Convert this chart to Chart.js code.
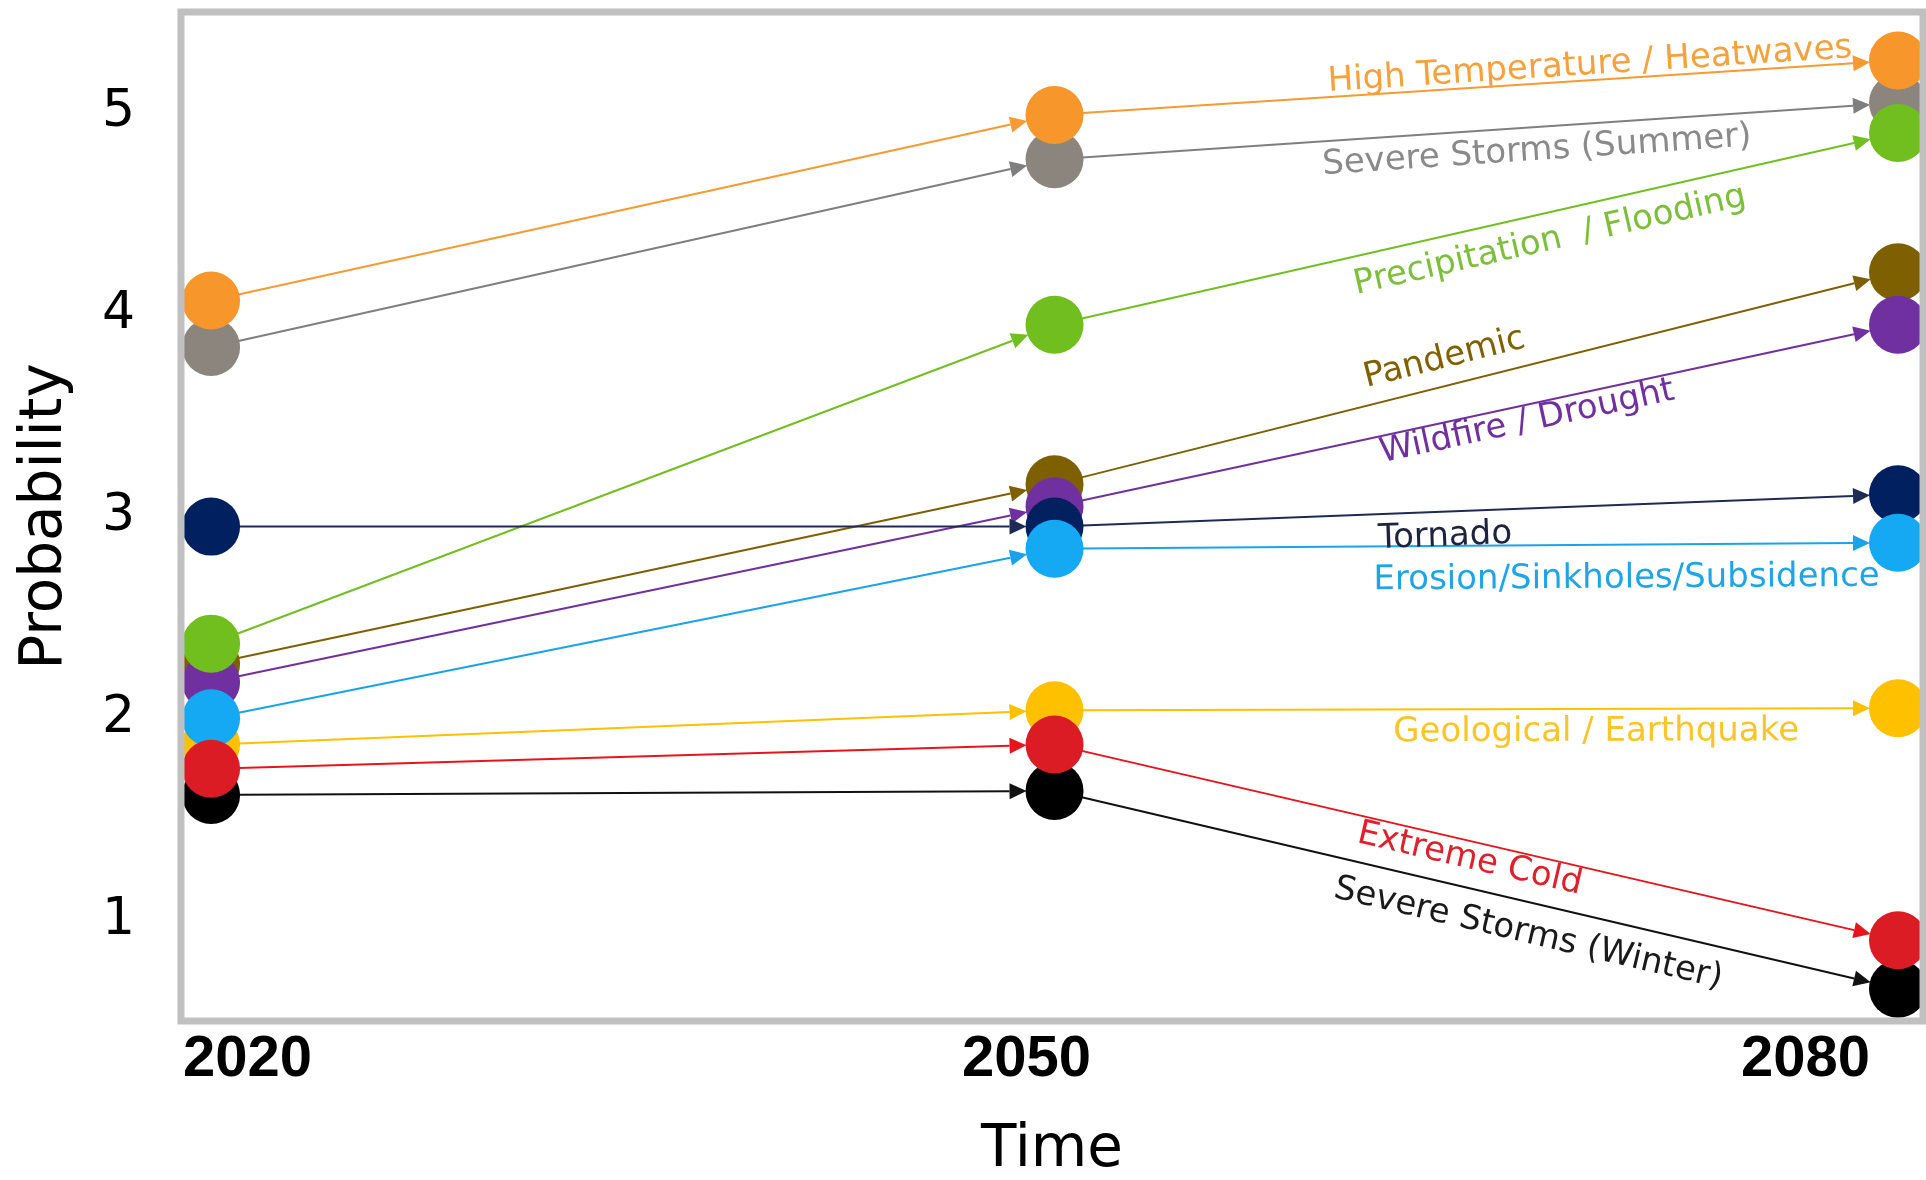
<!DOCTYPE html>
<html>
<head>
<meta charset="utf-8">
<script src="https://cdn.jsdelivr.net/npm/chart.js@4.4.0/dist/chart.umd.min.js"></script>
<style>
  html, body { margin: 0; padding: 0; background: #fff; }
</style>
</head>
<body>
<canvas id="myChart" width="1926" height="1180"></canvas>
<script>
// time axis + probability ticks
var years = [2020, 2050, 2080];
var yTicks = [1, 2, 3, 4, 5];

var hazards = [
    "High Temperature / Heatwaves",
    "Severe Storms (Summer)",
    "Precipitation  / Flooding",
    "Pandemic",
    "Wildfire / Drought",
    "Tornado",
    "Erosion/Sinkholes/Subsidence",
    "Geological / Earthquake",
    "Extreme Cold",
    "Severe Storms (Winter)"
];

// probability per hazard for 2020, 2050, 2080
var heatwaves = [4.07, 4.99, 5.26];
var summerStorms = [3.84, 4.77, 5.05];
var flooding = [2.37, 3.95, 4.90];
var pandemic = [2.27, 3.16, 4.21];
var wildfire = [2.18, 3.05, 3.95];
var tornado = [2.95, 2.95, 3.11];
var erosion = [2.00, 2.84, 2.87];
var earthquake = [1.87, 2.04, 2.05];
var extremeCold = [1.75, 1.87, 0.90];
var winterStorms = [1.62, 1.64, 0.66];

var series = [heatwaves, summerStorms, flooding, pandemic, wildfire, tornado, erosion, earthquake, extremeCold, winterStorms];

var dotColors = ["#f7962b", "#8b857d", "#70bf1f", "#7f6000", "#7030a0", "#002060", "#14a9f2", "#ffc000", "#dc1c24", "#000000"];
var lineColors = ["#f79a32", "#7f7f7f", "#72bf22", "#7f6000", "#7030a0", "#1f2a55", "#1aa3ea", "#ffc000", "#e8141c", "#111111"];
var textColors = ["#f7a13c", "#8a8a8a", "#7cbf3a", "#806000", "#7030a0", "#1e2440", "#1fa5e6", "#fbc52a", "#e0202a", "#1a1a1a"];

// where each name sits on the 2050 -> 2080 arrow: [fraction along it, offset from it]
var labelSpots = [[0.636, -15], [0.57, 24], [0.58, 28], [0.47, -27], [0.556, 17], [0.462, 25], [0.678, 34], [0.642, 23], [0.497, 18], [0.57, 31]];
var drawOrder = [0, 6, 0, 4, 3, 2, 1, 5, 0, 5];

var arrowPlugin = {
    id: "arrows",
    beforeDatasetsDraw: function (chart) {
        var ctx = chart.ctx;
        var area = chart.chartArea;
        var gap = 28, head = 17, half = 8;
        ctx.save();
        ctx.beginPath();
        ctx.rect(area.left, area.top, area.right - area.left, area.bottom - area.top);
        ctx.clip();
        for (var i = 0; i < series.length; i++) {
            var pts = chart.getDatasetMeta(i).data;
            for (var j = 0; j < pts.length - 1; j++) {
                var a = pts[j], b = pts[j + 1];
                var dx = b.x - a.x, dy = b.y - a.y;
                var len = Math.sqrt(dx * dx + dy * dy);
                var ux = dx / len, uy = dy / len;
                var sx = a.x + ux * gap, sy = a.y + uy * gap;
                var tx = b.x - ux * gap, ty = b.y - uy * gap;
                ctx.strokeStyle = lineColors[i];
                ctx.fillStyle = lineColors[i];
                ctx.lineWidth = 2;
                ctx.beginPath();
                ctx.moveTo(sx, sy);
                ctx.lineTo(tx - ux * head, ty - uy * head);
                ctx.stroke();
                ctx.beginPath();
                ctx.moveTo(tx, ty);
                ctx.lineTo(tx - ux * head - uy * half, ty - uy * head + ux * half);
                ctx.lineTo(tx - ux * head + uy * half, ty - uy * head - ux * half);
                ctx.closePath();
                ctx.fill();
            }
        }
        ctx.restore();
    },
    afterDatasetsDraw: function (chart) {
        var ctx = chart.ctx;
        var area = chart.chartArea;

        // hazard names along the last arrow
        for (var i = 0; i < hazards.length; i++) {
            var pts = chart.getDatasetMeta(i).data;
            var a = pts[1], b = pts[2];
            var f = labelSpots[i][0], off = labelSpots[i][1];
            ctx.save();
            ctx.translate(a.x + (b.x - a.x) * f, a.y + (b.y - a.y) * f);
            ctx.rotate(Math.atan2(b.y - a.y, b.x - a.x));
            ctx.font = '34px "DejaVu Sans"';
            ctx.fillStyle = textColors[i];
            ctx.textAlign = "center";
            ctx.textBaseline = "middle";
            ctx.fillText(hazards[i], 0, off);
            ctx.restore();
        }

        // grey frame
        ctx.save();
        ctx.strokeStyle = "#c0c0c0";
        ctx.lineWidth = 7;
        ctx.strokeRect(area.left, area.top, area.right - area.left, area.bottom - area.top);
        ctx.restore();
    }
};

var datasets = [];
for (var i = 0; i < hazards.length; i++) {
    var pts = [];
    for (var j = 0; j < years.length; j++) {
        pts.push({ x: years[j], y: series[i][j] });
    }
    datasets.push({
        label: hazards[i],
        data: pts,
        showLine: false,
        pointRadius: 29,
        pointBorderWidth: 0,
        pointBackgroundColor: dotColors[i],
        borderColor: dotColors[i],
        clip: 0,
        order: drawOrder[i]
    });
}

var ctx = document.getElementById("myChart").getContext("2d");
var myChart = new Chart(ctx, {
    type: "line",
    data: { datasets: datasets },
    plugins: [arrowPlugin],
    options: {
        responsive: false,
        animation: false,
        events: [],
        layout: { autoPadding: false, padding: { top: 12, right: 3, left: 0, bottom: 0 } },
        plugins: {
            legend: { display: false },
            tooltip: { enabled: false }
        },
        scales: {
            x: {
                type: "linear",
                min: 2018.93,
                max: 2080.89,
                afterBuildTicks: function (scale) {
                    scale.ticks = years.map(function (v) { return { value: v }; });
                },
                afterFit: function (scale) { scale.height = 159; },
                grid: { display: false, drawTicks: false },
                border: { display: false },
                ticks: {
                    align: "inner",
                    labelOffset: -28,
                    padding: 4,
                    color: "#000",
                    font: { family: "Liberation Sans", size: 58, weight: "bold" },
                    callback: function (v) { return String(v); }
                },
                title: {
                    display: true,
                    text: "Time",
                    color: "#000",
                    font: { family: "DejaVu Sans", size: 58, lineHeight: 1 },
                    padding: { top: 0, bottom: 0 }
                }
            },
            y: {
                type: "linear",
                min: 0.5,
                max: 5.5,
                afterBuildTicks: function (scale) {
                    scale.ticks = yTicks.map(function (v) { return { value: v }; });
                },
                afterFit: function (scale) { scale.width = 181; },
                grid: { display: false, drawTicks: true, tickLength: 44 },
                border: { display: false },
                ticks: {
                    padding: 2,
                    color: "#000",
                    font: { family: "DejaVu Sans", size: 52, lineHeight: 0.3 }
                },
                title: {
                    display: true,
                    text: "Probability",
                    color: "#000",
                    font: { family: "DejaVu Sans", size: 58, lineHeight: 1 },
                    padding: { top: 17, bottom: 0 }
                }
            }
        }
    }
});
</script>
</body>
</html>
